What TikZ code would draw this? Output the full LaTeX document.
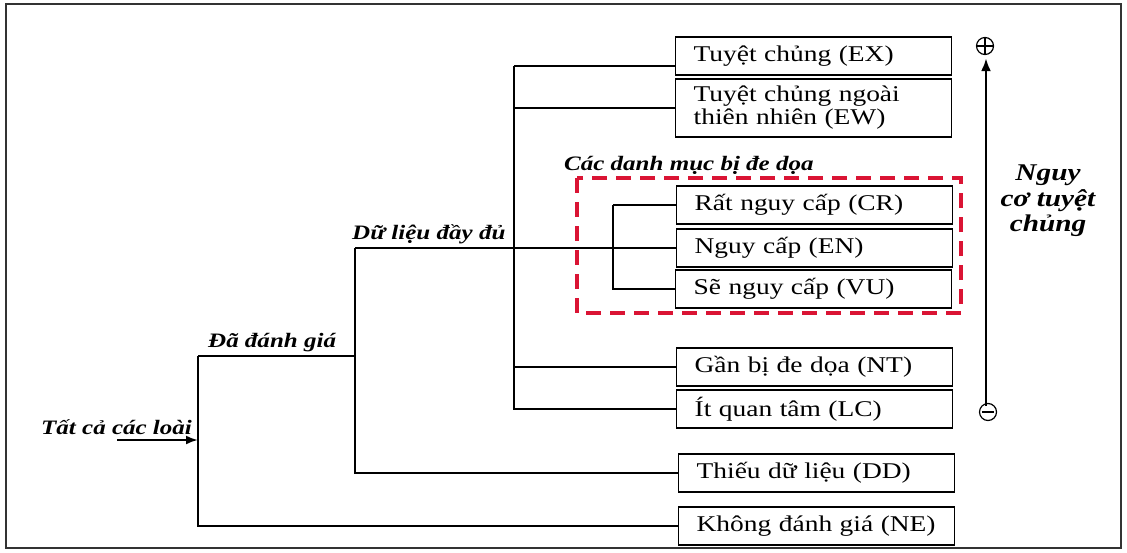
\documentclass[tikz,border=0pt]{standalone}
\usepackage{fontspec}
\setmainfont{Liberation Serif}[FakeStretch=1.22]
\usetikzlibrary{arrows.meta,calc}
\definecolor{threatred}{RGB}{218,20,52}
\begin{document}
\begin{tikzpicture}[x=1pt,y=-1pt,
  cat/.style={draw,line width=1.3pt,anchor=west,minimum width=276pt,minimum height=38pt,
    text width=240pt,inner xsep=18pt,inner ysep=0pt,align=left,font=\fontsize{22.5}{23}\selectfont},
  tree/.style={line width=2.2pt},
  lab/.style={font=\fontsize{20.5}{22}\selectfont\bfseries\itshape,inner sep=0pt,anchor=base west},
  sign/.style={circle,draw,line width=1.2pt,inner sep=0pt,minimum size=17pt},
]
\useasboundingbox (0,0) rectangle (1127,552);
\draw[line width=1.2pt,black!80] (6,4) rectangle (1121,548);

% category boxes
\node[cat] (ex) at (675,56) {Tuyệt chủng (EX)};
\node[cat,minimum height=58pt] (ew) at (675,108) {Tuyệt chủng ngoài\\thiên nhiên (EW)};
\node[cat] (cr) at (676,205) {Rất nguy cấp (CR)};
\node[cat] (en) at (676,248) {Nguy cấp (EN)};
\node[cat] (vu) at (675,289) {Sẽ nguy cấp (VU)};
\node[cat] (nt) at (676,367) {Gần bị đe dọa (NT)};
\node[cat] (lc) at (676,409) {Ít quan tâm (LC)};
\node[cat] (dd) at (678,473) {Thiếu dữ liệu (DD)};
\node[cat] (ne) at (678,526) {Không đánh giá (NE)};

% junction coordinates
\coordinate (start) at (117,440);
\coordinate (rootT) at (198,356);
\coordinate (rootB) at (198,526);
\coordinate (evalT) at (355,248);
\coordinate (evalB) at (355,473);
\coordinate (fullT) at (514,66);
\coordinate (fullB) at (514,409);
\coordinate (thrT) at (613,205);
\coordinate (thrB) at (613,289);

% tree
\draw[tree,-{Latex[length=12pt,width=9pt]}] (start) -- (start -| rootT);
\draw[tree] (rootT) -- (rootB) -- (ne.west);
\draw[tree] (rootT) -- (rootT -| evalT);
\draw[tree] (evalT) -- (evalB) -- (dd.west);
\draw[tree] (evalT) -- (en.west);
\draw[tree] (fullT) -- (fullB) -- (lc.west);
\draw[tree] (fullT) -- ($(ex.west)+(0,10)$);
\draw[tree] (fullT |- ew.west) -- (ew.west);
\draw[tree] (fullT |- nt.west) -- (nt.west);
\draw[tree] (thrT) -- (cr.west);
\draw[tree] (thrT) -- (thrB) -- (vu.west);

% threatened group
\draw[threatred,line width=3.3pt,dash pattern=on 15pt off 9pt] (577,178) rectangle (961,313);

% labels
\node[lab] (all) at (41,434) {Tất cả các loài};
\node[lab] (eval) at (208,347) {Đã đánh giá};
\node[lab] (full) at (352,239) {Dữ liệu đầy đủ};
\node[lab] (thr) at (564,170) {Các danh mục bị đe dọa};

% risk axis
\node[sign] (plus) at (985,46) {};
\draw[line width=1.2pt] (plus.west) -- (plus.east) (plus.north) -- (plus.south);
\node[sign] (minus) at (988,412) {};
\draw[line width=1.2pt] ($(minus.west)+(3,0)$) -- ($(minus.east)+(-3,0)$);
\draw[line width=2.8pt,-{Latex[length=13pt,width=10pt]}] ($(minus.north)+(-2,3)$) -- ($(plus.south)+(1,3)$);
\node[font=\fontsize{24}{25.5}\selectfont\bfseries\itshape,align=center,inner sep=0pt] (risk) at (1048,201) {Nguy\\cơ tuyệt\\chủng};
\end{tikzpicture}
\end{document}
